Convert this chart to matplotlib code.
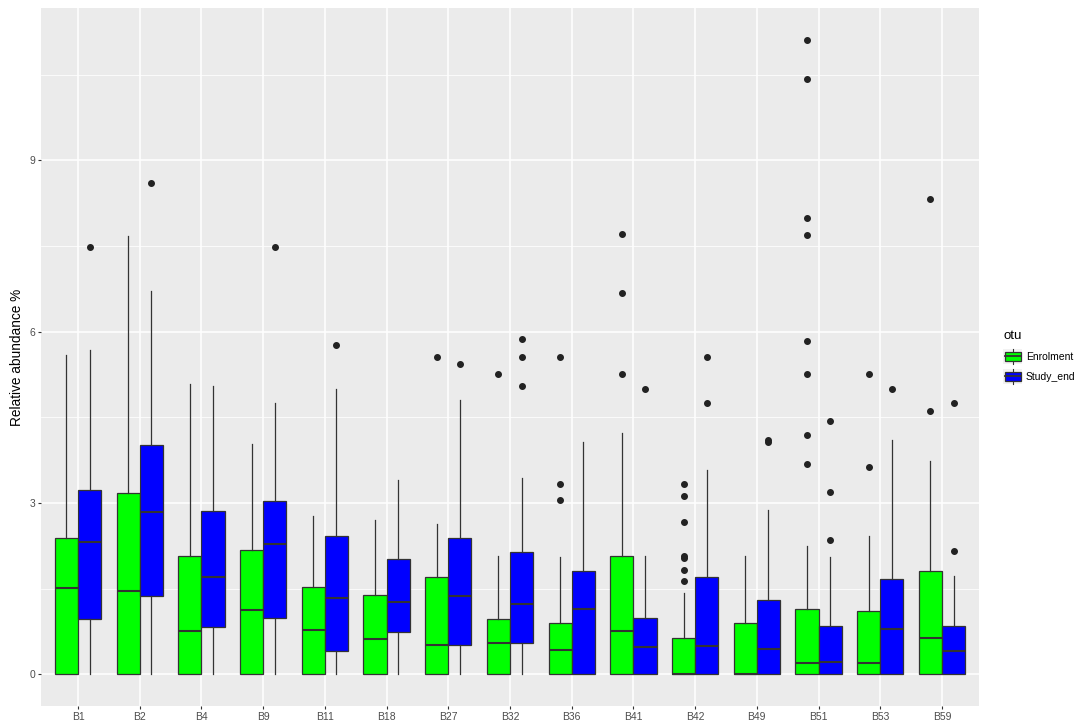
import numpy as np
import matplotlib
matplotlib.use("Agg")
from matplotlib import pyplot as plt
from matplotlib.patches import Patch, Rectangle
from matplotlib.lines import Line2D
from matplotlib.legend_handler import HandlerBase

# data
categories = ["B1", "B2", "B4", "B9", "B11", "B18", "B27", "B32", "B36",
              "B41", "B42", "B49", "B51", "B53", "B59"]

# Enrolment (green)
enr_q1 = [0, 0, 0, 0, 0, 0, 0, 0, 0, 0, 0, 0, 0, 0, 0]
enr_med = [1.51, 1.45, 0.75, 1.12, 0.78, 0.62, 0.51, 0.55, 0.43, 0.75, 0.0, 0.0, 0.20, 0.20, 0.64]
enr_q3 = [2.39, 3.18, 2.08, 2.17, 1.52, 1.38, 1.71, 0.96, 0.90, 2.08, 0.63, 0.89, 1.15, 1.10, 1.80]
enr_lo = [0, 0, 0, 0, 0, 0, 0, 0, 0, 0, 0, 0, 0, 0, 0]
enr_hi = [5.60, 7.68, 5.09, 4.04, 2.77, 2.70, 2.63, 2.07, 2.05, 4.23, 1.43, 2.07, 2.25, 2.43, 3.74]
enr_out = [[], [], [], [], [], [], [5.55], [5.26], [3.33, 3.06, 5.55],
           [7.71, 6.68, 5.26], [3.33, 3.12, 2.66, 2.08, 2.04, 1.82, 1.63], [],
           [11.11, 10.42, 8.00, 7.69, 5.84, 5.26, 4.19, 3.68], [5.26, 3.63],
           [8.33, 4.61]]

# Study_end (blue)
end_q1 = [0.96, 1.37, 0.83, 0.98, 0.41, 0.74, 0.51, 0.54, 0, 0, 0, 0, 0, 0, 0]
end_med = [2.31, 2.84, 1.70, 2.28, 1.34, 1.26, 1.37, 1.23, 1.14, 0.48, 0.50, 0.45, 0.22, 0.80, 0.40]
end_q3 = [3.22, 4.02, 2.86, 3.03, 2.42, 2.02, 2.38, 2.14, 1.81, 0.98, 1.71, 1.30, 0.85, 1.66, 0.84]
end_lo = [0, 0, 0, 0, 0, 0, 0, 0, 0, 0, 0, 0, 0, 0, 0]
end_hi = [5.68, 6.72, 5.05, 4.75, 4.99, 3.41, 4.80, 3.44, 4.06, 2.08, 3.57, 2.88, 2.06, 4.10, 1.72]
end_out = [[7.49], [8.61], [], [7.49], [5.77], [], [5.43], [5.88, 5.55, 5.05], [],
           [5.00], [5.56, 4.76], [4.10, 4.07], [4.44, 3.19, 2.35], [5.00],
           [4.76, 2.16]]

EDGE = "#333333"


def make_stats(q1, med, q3, lo, hi, out):
    stats = []
    for i in range(len(q1)):
        stats.append({"q1": q1[i], "med": med[i], "q3": q3[i],
                      "whislo": lo[i], "whishi": hi[i], "fliers": out[i]})
    return stats


class BoxKey(HandlerBase):
    # ggplot-like boxplot legend key
    def create_artists(self, legend, orig_handle, xdescent, ydescent, width, height,
                       fontsize, trans):
        x0, y0 = -xdescent, -ydescent
        bg = Rectangle((x0, y0 - 1), width, height + 2, facecolor="#F2F2F2",
                       edgecolor="none", transform=trans)
        whisk = Line2D([x0 + width / 2] * 2, [y0 - 1, y0 + height + 1],
                       color=EDGE, lw=0.8, transform=trans)
        box = Rectangle((x0 + 1, y0 + 1.2), width - 2, height - 2.4,
                        facecolor=orig_handle.get_facecolor(), edgecolor=EDGE,
                        lw=0.9, transform=trans)
        med = Line2D([x0 + 1, x0 + width - 1], [y0 + height / 2] * 2,
                     color=EDGE, lw=1.3, transform=trans)
        return [bg, whisk, box, med]


def main():
    plt.rcParams["font.family"] = ["Liberation Sans", "DejaVu Sans"]
    fig = plt.figure(figsize=(10.79, 7.21), dpi=100)
    ax = fig.add_axes([41 / 1079, 15 / 721, 938 / 1079, 698 / 721])
    ax.set_facecolor("#EBEBEB")

    x = np.arange(len(categories))
    w = 0.375
    groups = [
        (make_stats(enr_q1, enr_med, enr_q3, enr_lo, enr_hi, enr_out), x - w / 2, "#00FF00"),
        (make_stats(end_q1, end_med, end_q3, end_lo, end_hi, end_out), x + w / 2, "#0000FF"),
    ]
    for stats, pos, col in groups:
        ax.bxp(stats, positions=pos, widths=w, patch_artist=True, showcaps=False,
               boxprops=dict(facecolor=col, edgecolor=EDGE, linewidth=0.9),
               medianprops=dict(color=EDGE, linewidth=1.5),
               whiskerprops=dict(color=EDGE, linewidth=0.9),
               flierprops=dict(marker="o", markerfacecolor="#222222",
                               markeredgecolor="#222222", markersize=4.0),
               zorder=3)

    ax.set_xlim(-0.6, len(categories) - 0.4)
    ax.set_ylim(-0.556, 11.67)
    ax.set_xticks(x)
    ax.set_xticklabels(categories)
    ax.set_yticks([0, 3, 6, 9])
    ax.set_yticks([1.5, 4.5, 7.5, 10.5], minor=True)
    ax.grid(True, which="major", color="white", linewidth=1.1, zorder=0)
    ax.grid(True, which="minor", axis="y", color="white", linewidth=0.55, zorder=0)
    ax.set_axisbelow(True)
    for s in ax.spines.values():
        s.set_visible(False)
    ax.tick_params(axis="both", which="major", length=2.5, width=0.8, color="#333333",
                   labelsize=7.5, labelcolor="#4D4D4D", pad=1.5)
    ax.tick_params(axis="both", which="minor", length=0)
    ax.set_ylabel("Relative abundance %", fontsize=9.8, labelpad=4)

    handles = [Patch(facecolor="#00FF00", edgecolor=EDGE, label="Enrolment"),
               Patch(facecolor="#0000FF", edgecolor=EDGE, label="Study_end")]
    leg = fig.legend(handles=handles, title="otu", loc="upper left",
                     bbox_to_anchor=(1000 / 1079, 1 - 327 / 721), frameon=False,
                     fontsize=7.5, title_fontsize=9.5, handlelength=1.85,
                     handleheight=1.45, handletextpad=0.35, labelspacing=0.75,
                     borderaxespad=0, borderpad=0.3,
                     handler_map={Patch: BoxKey()})
    leg._legend_box.align = "left"

    fig.savefig("out.png", dpi=100)
    plt.close(fig)


if __name__ == "__main__":
    main()
